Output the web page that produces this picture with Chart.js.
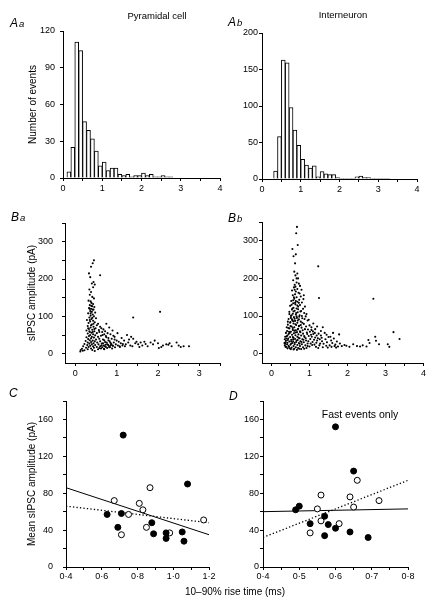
<!DOCTYPE html>
<html><head><meta charset="utf-8">
<script src="https://cdn.jsdelivr.net/npm/chart.js@4"></script>
<style>
html,body{margin:0;padding:0;background:#fff;}
body{width:428px;height:602px;position:relative;overflow:hidden;font-family:"Liberation Sans",Arial,sans-serif;color:#000;}
canvas{position:absolute;left:0;top:0;width:428px;height:602px;}
.t{position:absolute;white-space:nowrap;line-height:1;}
.c{transform:translateX(-50%);}
.p{font-style:italic;font-size:12px;}
.p span{font-size:9.5px;margin-left:1px;}
</style></head>
<body>
<canvas id="aa" width="428" height="602"></canvas>
<canvas id="ab" width="428" height="602"></canvas>
<canvas id="ba" width="428" height="602"></canvas>
<canvas id="bb" width="428" height="602"></canvas>
<canvas id="cc" width="428" height="602"></canvas>
<canvas id="dd" width="428" height="602"></canvas>

<div class="t p" style="left:10px;top:17px">A<span>a</span></div>
<div class="t c" style="left:157px;top:11px;font-size:9.5px">Pyramidal cell</div>
<div class="t p" style="left:228px;top:16px">A<span>b</span></div>
<div class="t c" style="left:343px;top:10px;font-size:9.5px">Interneuron</div>
<div class="t p" style="left:11px;top:211px">B<span>a</span></div>
<div class="t p" style="left:228px;top:212px">B<span>b</span></div>
<div class="t p" style="left:9px;top:387px">C</div>
<div class="t p" style="left:229px;top:390px">D</div>
<div class="t c" style="left:360px;top:409px;font-size:10.5px">Fast events only</div>
<div class="t" style="left:185px;top:587px;font-size:10px">10–90% rise time (ms)</div>

<script>
// ---------- DATA ----------
// Aa histogram (pyramidal cell): bin centres (ms) and counts
const aaBins   = [0.15,0.25,0.35,0.45,0.55,0.65,0.75,0.85,0.95,1.05,1.15,1.25,1.35,1.45,1.55,1.65,1.75,1.85,1.95,2.05,2.15,2.25,2.35,2.45,2.55,2.65,2.75];
const aaCounts = [5,25,111,104,46,39,32,22,10,13,6,8,8,3,2,3,1,2,2,4,2,3,1,1,2,1,1];
// Ab histogram (interneuron)
const abBins   = [0.35,0.45,0.55,0.65,0.75,0.85,0.95,1.05,1.15,1.25,1.35,1.45,1.55,1.65,1.75,1.85,1.95,2.05,2.15,2.25,2.35,2.45,2.55,2.65,2.75,2.85,2.95,3.05,3.15,3.25];
const abCounts = [11,58,163,159,98,67,46,27,19,15,18,3,10,7,6,6,2,1,1,1,1,3,4,2,2,1,1,1,1,1];

// Ba scatter: [rise time (ms), amplitude (pA)] pairs
const baPoints = [
0.45,250, 0.42,242, 0.38,233, 0.33,215, 0.36,205, 0.60,210, 0.44,192, 0.40,188, 0.47,185, 0.43,178,
0.34,172, 0.38,165, 0.35,158, 0.41,152, 0.45,148, 0.32,142, 0.37,140, 0.39,136, 0.43,133, 0.35,130,
0.41,127, 0.46,125, 0.33,122, 0.38,120, 0.44,118, 0.36,114, 0.40,112, 0.48,110, 0.31,108, 0.42,105,
0.37,102, 0.45,100, 0.34,97, 0.50,95, 0.39,93, 0.28,90, 0.43,88, 0.36,86, 0.47,84, 0.32,82,
0.55,80, 0.40,78, 0.52,76, 0.30,74, 0.44,72, 0.37,70, 0.60,72, 0.49,68, 0.33,66, 0.41,64,
0.57,63, 0.27,62, 0.46,60, 0.35,58, 0.65,58, 0.39,56, 0.52,55, 0.30,54, 0.43,52, 0.70,52,
0.36,50, 0.48,49, 0.62,48, 0.33,47, 0.40,45, 0.55,45, 0.27,44, 0.45,43, 0.75,44, 0.38,41,
0.58,40, 0.31,39, 0.50,38, 0.67,38, 0.35,36, 0.42,35, 0.80,36, 0.25,34, 0.47,33, 0.60,33,
0.38,31, 0.72,31, 0.30,30, 0.53,30, 0.44,28, 0.85,29, 0.34,27, 0.64,27, 0.22,26, 0.40,25,
0.56,25, 0.77,25, 0.29,23, 0.48,23, 0.68,22, 0.36,21, 0.90,22, 0.19,20, 0.43,20, 0.60,20,
0.32,18, 0.52,18, 0.74,18, 0.26,16, 0.45,16, 0.82,17, 0.38,14, 0.62,14, 0.16,13, 0.30,12,
0.55,12, 0.70,12, 0.13,10, 0.22,9, 0.41,10, 0.12,6, 0.18,8, 0.47,7, 0.35,120, 0.39,128,
0.42,118, 0.37,108, 0.41,96, 0.35,90, 0.44,80, 0.38,76, 0.31,68, 0.46,66, 0.34,60, 0.42,58,
0.63,68, 0.68,65, 0.72,60, 0.58,58, 0.78,55, 0.66,50, 0.85,52, 0.74,47, 0.92,48, 0.80,42,
0.88,40, 0.95,38, 0.70,36, 0.83,33, 1.00,35, 0.76,30, 0.93,30, 1.05,32, 0.67,28, 0.87,26,
1.10,28, 0.79,24, 0.98,25, 1.15,26, 0.71,20, 0.91,21, 1.03,22, 0.84,18, 1.20,20, 0.65,17,
0.96,17, 0.77,15, 1.08,18, 0.58,15, 0.89,14, 0.69,13, 0.75,80, 0.82,70, 0.90,62, 1.02,55,
0.95,45, 1.12,42, 1.25,50, 1.30,38, 1.18,35, 1.35,45, 1.28,30, 1.40,40, 1.22,25, 1.33,22,
1.45,28, 1.38,20, 1.48,32, 1.52,25, 1.14,22, 1.07,20, 0.63,22, 0.73,24, 0.81,21, 0.86,23,
1.40,97, 2.05,112, 1.58,30, 1.62,22, 1.70,26, 1.75,20, 1.82,30, 1.88,25, 1.92,35, 2.00,28,
2.08,18, 2.12,22, 2.20,25, 2.28,28, 2.33,20, 2.45,30, 2.50,22, 2.55,18, 2.62,20, 2.75,20,
1.55,18, 1.67,32, 2.02,15, 2.25,24
];

// Bb scatter: [rise time (ms), amplitude (pA)] pairs
const bbPoints = [
0.67,337, 0.65,320, 0.69,289, 0.55,278, 0.58,259, 0.64,264, 0.62,240, 1.23,232, 0.60,218, 0.68,213,
0.63,208, 0.70,200, 0.57,195, 0.66,189, 0.72,186, 0.61,183, 0.75,180, 0.59,176, 0.68,172, 0.54,168,
0.64,165, 0.71,162, 0.62,158, 0.56,155, 0.77,152, 1.25,148, 2.68,146, 0.66,150, 0.60,146, 0.73,143,
0.52,140, 0.68,138, 0.80,136, 0.57,134, 0.63,131, 0.75,129, 0.49,127, 0.70,125, 0.58,122, 0.66,120,
0.83,119, 0.54,117, 0.61,114, 0.78,113, 0.47,111, 0.69,110, 0.86,108, 0.56,106, 0.64,104, 0.74,102,
0.51,100, 0.90,99, 0.59,97, 0.67,95, 0.81,94, 0.45,92, 0.72,91, 0.55,89, 0.62,87, 0.95,88,
0.77,85, 0.50,84, 0.68,82, 0.58,80, 0.85,79, 0.43,77, 0.65,76, 0.73,74, 1.00,75, 0.53,72,
0.60,70, 0.79,69, 0.47,67, 0.70,66, 0.88,65, 0.56,63, 0.64,62, 1.05,63, 0.41,60, 0.75,59,
0.51,58, 0.67,57, 0.93,56, 0.59,54, 0.83,53, 0.45,52, 0.71,51, 1.10,52, 0.54,50, 0.63,49,
0.78,48, 0.98,47, 0.40,46, 0.68,45, 0.49,44, 0.87,44, 0.58,42, 0.74,41, 1.15,43, 0.44,40,
0.62,39, 0.81,38, 1.02,39, 0.52,37, 0.69,36, 0.91,35, 0.38,34, 0.57,33, 0.76,33, 1.20,35,
0.47,32, 0.65,31, 0.85,30, 1.08,31, 0.42,29, 0.55,28, 0.72,28, 0.95,27, 0.36,26, 0.61,25,
0.80,25, 1.28,27, 0.50,24, 0.68,23, 0.89,22, 1.13,24, 0.45,21, 0.58,20, 0.75,20, 1.00,19,
0.39,18, 0.64,17, 0.83,17, 0.53,16, 0.70,15, 0.92,15, 0.48,14, 0.60,13, 0.78,12, 0.35,22,
0.37,30, 0.43,36, 0.41,25, 0.46,18, 0.52,27, 0.56,44, 0.60,61, 0.63,78, 0.66,99, 0.70,118,
0.62,135, 0.58,112, 0.54,91, 0.50,73, 0.48,55, 0.72,73, 0.76,57, 0.82,62, 0.86,47, 0.90,41,
0.94,52, 0.97,33, 1.03,27, 1.06,45, 1.12,37, 1.18,29, 1.22,41, 1.26,22, 1.30,48, 1.33,33,
1.37,26, 1.40,55, 1.42,38, 1.46,30, 1.50,44, 1.53,22, 1.57,35, 1.60,28, 1.64,40, 1.68,24,
1.72,32, 1.78,51, 1.80,27, 1.75,19, 1.85,20, 1.92,23, 1.97,21, 2.05,18, 2.15,25, 2.25,20,
2.33,19, 2.40,22, 2.50,19, 2.55,36, 2.58,28, 2.73,45, 2.75,34, 2.83,25, 3.06,25, 3.10,18,
3.21,57, 3.37,39, 1.10,80, 1.05,70, 1.15,65, 0.98,90, 0.92,105, 0.88,125, 0.84,145, 1.20,72,
1.30,60, 1.35,70, 1.45,50, 1.55,45, 1.62,55, 0.74,160, 0.79,170, 0.85,155, 0.80,100, 0.76,112,
0.72,135, 0.68,128, 0.64,140, 0.55,120, 0.53,102, 0.57,86, 0.61,93, 0.65,108, 0.69,88, 0.73,98,
0.77,76, 0.81,82, 0.87,92, 0.91,72, 0.96,64, 1.01,58, 1.04,50, 1.09,59, 1.14,55, 1.19,48,
1.24,53, 1.27,38, 1.32,42, 0.46,58, 0.42,48, 0.39,40, 0.44,68, 0.49,82, 0.51,95, 0.59,150,
0.63,178, 0.66,200, 0.61,170, 0.57,142, 0.53,130, 0.47,105, 0.43,85, 0.40,70, 0.38,55, 0.36,45,
0.35,38, 0.34,28, 0.37,18, 0.42,14, 0.51,12, 0.58,11, 0.67,10, 0.73,13, 0.86,13, 0.95,20,
1.07,23, 1.17,18, 1.23,15, 1.35,17, 1.44,21, 1.48,16, 1.58,18, 1.66,20, 1.70,16, 0.52,33,
0.57,38, 0.61,29, 0.66,35, 0.71,42, 0.74,26, 0.79,31, 0.84,37, 0.63,56, 0.69,64, 0.56,68
];

// C: mean amplitude vs rise time (all events)
const cFilledX = [0.63,0.72,0.71,0.69,0.88,0.89,0.96,0.96,1.05,1.06,1.08];
const cFilledY = [57,143,58,43,48,36,37,31,38,28,90];
const cOpenX   = [0.67,0.71,0.75,0.81,0.83,0.87,0.85,0.98,1.17];
const cOpenY   = [72,35,57,69,62,86,43,37,51];
const cFitX    = [0.4,1.2];
const cSolidY  = [86,35];
const cDottedY = [66,48];

// D: fast events only
const dFilledX = [0.60,0.65,0.49,0.50,0.53,0.57,0.58,0.57,0.60,0.64,0.69];
const dFilledY = [152,104,62,66,47,55,46,34,42,38,32];
const dOpenX   = [0.66,0.56,0.55,0.56,0.53,0.61,0.64,0.65,0.72];
const dOpenY   = [94,78,63,50,37,47,76,65,72];
const dFitX    = [0.4,0.8];
const dSolidY  = [60,63];
const dDottedY = [32,94];

// ---------- RENDER ----------
Chart.defaults.font.family = '"Liberation Sans", Arial, sans-serif';
Chart.defaults.color = '#000';

const zip = (xs, ys) => xs.map((x, i) => ({x: x, y: ys[i]}));
const pairs = f => { const a = []; for (let i = 0; i < f.length; i += 2) a.push({x: f[i], y: f[i+1]}); return a; };
const onStep = (v, s) => Math.abs(v / s - Math.round(v / s)) < 1e-6;
const intFmt = v => String(Math.round(v));
const dotFmt = v => v.toFixed(1).replace('.', '\u00B7');

const W = 428, H = 602, YW = 45, XH = 22;

function axis(o, pos) {
  const a = {
    type: 'linear', position: pos, min: o.min, max: o.max, offset: false,
    afterFit: s => { if (pos === 'left') s.width = YW; else s.height = XH; },
    grid: {display: true, drawOnChartArea: false, drawTicks: true, tickLength: 3, tickColor: '#000', tickWidth: 1, offset: false},
    border: {display: true, color: '#000', width: 1},
    ticks: {stepSize: o.step, includeBounds: false, autoSkip: false, maxRotation: 0, minRotation: 0,
            padding: o.pad, font: {size: 9}, color: '#000',
            callback: v => onStep(v, o.major) ? o.fmt(v) : ''},
    title: {display: false}
  };
  if (o.title) a.title = {display: true, text: o.title, color: '#000', font: {size: 10}, padding: {top: o.tpad, bottom: 0}};
  return a;
}

function panel(id, type, box, xo, yo, datasets) {
  new Chart(document.getElementById(id), {
    type: type,
    data: {datasets: datasets},
    options: {
      responsive: false, maintainAspectRatio: false, animation: false, devicePixelRatio: 1, events: [],
      layout: {padding: {left: box.L - YW, right: W - box.R, top: box.T, bottom: H - box.B - XH}},
      plugins: {legend: {display: false}, tooltip: {enabled: false}},
      scales: {x: axis(xo, 'bottom'), y: axis(yo, 'left')}
    }
  });
}

const barDs = (xs, ys) => ({
  data: zip(xs, ys), backgroundColor: '#fff', borderColor: '#000', borderWidth: 1,
  barPercentage: 1, categoryPercentage: 1
});
const dotDs = pts => ({data: pts, pointRadius: 1.05, pointBorderWidth: 0, pointBackgroundColor: '#000', showLine: false});
const circDs = (xs, ys, fill) => ({data: zip(xs, ys), pointRadius: 3, pointBorderWidth: 1,
  pointBackgroundColor: fill, pointBorderColor: '#000', showLine: false});
const lineDs = (xs, ys, dash) => ({data: zip(xs, ys), showLine: true, pointRadius: 0, borderColor: '#000',
  borderWidth: dash.length ? 1.3 : 1, borderDash: dash, fill: false});

// Aa
panel('aa', 'bar', {L: 63, R: 220, T: 31, B: 178},
  {min: 0, max: 4, step: 0.5, major: 1, fmt: intFmt, pad: 2},
  {min: 0, max: 120, step: 30, major: 30, fmt: intFmt, pad: 5, title: 'Number of events', tpad: 9},
  [barDs(aaBins, aaCounts)]);
// Ab
panel('ab', 'bar', {L: 262, R: 417, T: 33, B: 179},
  {min: 0, max: 4, step: 0.5, major: 1, fmt: intFmt, pad: 2},
  {min: 0, max: 200, step: 50, major: 50, fmt: intFmt, pad: 1},
  [barDs(abBins, abCounts)]);
// Ba
panel('ba', 'scatter', {L: 65, R: 220, T: 223, B: 363},
  {min: -0.25, max: 3.5, step: 0.5, major: 1, fmt: intFmt, pad: 2},
  {min: -25, max: 350, step: 50, major: 100, fmt: intFmt, pad: 9, title: 'sIPSC amplitude (pA)', tpad: 6},
  [dotDs(pairs(baPoints))]);
// Bb
panel('bb', 'scatter', {L: 262, R: 425, T: 222, B: 363},
  {min: -0.25, max: 4, step: 0.5, major: 1, fmt: intFmt, pad: 2},
  {min: -25, max: 350, step: 50, major: 100, fmt: intFmt, pad: 1},
  [dotDs(pairs(bbPoints))]);
// C
panel('cc', 'scatter', {L: 66, R: 209, T: 401, B: 567},
  {min: 0.4, max: 1.2, step: 0.1, major: 0.2, fmt: dotFmt, pad: 1},
  {min: 0, max: 180, step: 20, major: 40, fmt: intFmt, pad: 10, title: 'Mean sIPSC amplitude (pA)', tpad: 5},
  [circDs(cFilledX, cFilledY, '#000'), circDs(cOpenX, cOpenY, '#fff'),
   lineDs(cFitX, cSolidY, []), lineDs(cFitX, cDottedY, [1.3, 2.2])]);
// D
panel('dd', 'scatter', {L: 263, R: 408, T: 401, B: 567},
  {min: 0.4, max: 0.8, step: 0.05, major: 0.1, fmt: dotFmt, pad: 1},
  {min: 0, max: 180, step: 20, major: 40, fmt: intFmt, pad: 1},
  [circDs(dFilledX, dFilledY, '#000'), circDs(dOpenX, dOpenY, '#fff'),
   lineDs(dFitX, dSolidY, []), lineDs(dFitX, dDottedY, [1.3, 2.2])]);
</script>
</body></html>
